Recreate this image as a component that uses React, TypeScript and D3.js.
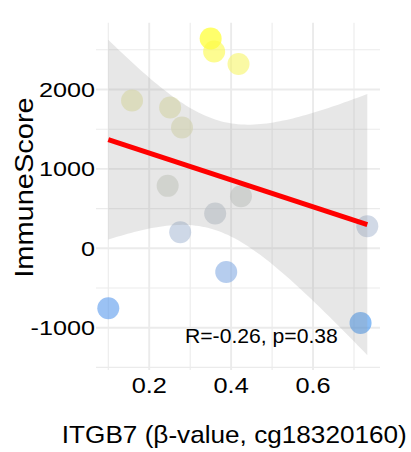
import React from "react";
import * as d3 from "d3";

// ---- data ----
const betaValues = [0.350, 0.3585, 0.418, 0.158, 0.251, 0.280, 0.245, 0.424, 0.361, 0.2756, 0.7325, 0.388, 0.100, 0.716];
const immuneScores = [2643, 2479, 2320, 1861, 1773, 1521, 786, 656, 438, 202, 277, -299, -755, -941];
const xMajorTicks = [0.2, 0.4, 0.6];
const xMinorTicks = [0.1, 0.3, 0.5, 0.7];
const yMajorTicks = [-1000, 0, 1000, 2000];
const yMinorTicks = [-1500, -500, 500, 1500, 2500];
const colorStops = [-950, 700, 1900, 2650];
const colorRange = ["#3b93f0", "#cfd1cb", "#e8e8a6", "#ffff00"];
const annotation = "R=-0.26, p=0.38";
const xTitle = "ITGB7 (\u03b2-value, cg18320160)";
const yTitle = "ImmuneScore";
const T_975_DF12 = 2.1788;

const FONT = "'Liberation Sans', Arial, Helvetica, sans-serif";

export default function App() {
  const W = 411, H = 452;
  const left = 96, right = 380, top = 22.7, bottom = 370;
  const x = d3.scaleLinear().domain([0.07, 0.7635]).range([left, right]);
  const y = d3.scaleLinear().domain([-1533, 2841]).range([bottom, top]);
  const color = d3.scaleLinear<string>().domain(colorStops).range(colorRange).interpolate(d3.interpolateLab);

  // linear regression with 95% CI
  const n = betaValues.length;
  const xbar = d3.mean(betaValues)!;
  const ybar = d3.mean(immuneScores)!;
  let sxx = 0, sxy = 0, syy = 0;
  for (let i = 0; i < n; i++) {
    const dx = betaValues[i] - xbar, dy = immuneScores[i] - ybar;
    sxx += dx * dx; sxy += dx * dy; syy += dy * dy;
  }
  const slope = sxy / sxx;
  const intercept = ybar - slope * xbar;
  const s = Math.sqrt((syy - slope * sxy) / (n - 2));
  const [xmin, xmax] = d3.extent(betaValues) as [number, number];
  const grid = d3.range(0, 81).map((i) => xmin + (xmax - xmin) * i / 80);
  const band = grid.map((xv) => {
    const fit = intercept + slope * xv;
    const hw = T_975_DF12 * s * Math.sqrt(1 / n + (xv - xbar) ** 2 / sxx);
    return { xv, lo: fit - hw, hi: fit + hw };
  });
  const area = d3.area<{ xv: number; lo: number; hi: number }>()
    .x((d) => x(d.xv)).y0((d) => y(d.lo)).y1((d) => y(d.hi));
  const line = d3.line<number>().x((d) => x(d)).y((d) => y(intercept + slope * d));

  const gridColor = "#ebebeb";

  return (
    <svg width={W} height={H} style={{ position: "absolute", left: 0, top: 0 }} fontFamily={FONT}>
      <rect x={0} y={0} width={W} height={H} fill="#ffffff" />
      {/* minor grid */}
      {yMinorTicks.map((t) => (
        <line key={"ym" + t} x1={left} x2={right} y1={y(t)} y2={y(t)} stroke={gridColor} strokeWidth={1.1} />
      ))}
      {xMinorTicks.map((t) => (
        <line key={"xm" + t} y1={top} y2={bottom} x1={x(t)} x2={x(t)} stroke={gridColor} strokeWidth={1.1} />
      ))}
      {/* major grid */}
      {yMajorTicks.map((t) => (
        <line key={"yM" + t} x1={left} x2={right} y1={y(t)} y2={y(t)} stroke={gridColor} strokeWidth={1.9} />
      ))}
      {xMajorTicks.map((t) => (
        <line key={"xM" + t} y1={top} y2={bottom} x1={x(t)} x2={x(t)} stroke={gridColor} strokeWidth={1.9} />
      ))}
      {/* points */}
      {betaValues.map((bv, i) => (
        <circle key={"p" + i} cx={x(bv)} cy={y(immuneScores[i])} r={11} fill={color(immuneScores[i])} fillOpacity={0.6} />
      ))}
      {/* CI band */}
      <path d={area(band)!} fill="#999999" fillOpacity={0.24} />
      {/* regression line */}
      <path d={line([xmin, xmax])!} stroke="#ff0000" strokeWidth={5} fill="none" />
      {/* annotation */}
      <text transform="translate(185,343) scale(1.085,1)" fontSize={19.5} fill="#000">{annotation}</text>
      {/* y tick labels */}
      {yMajorTicks.map((t) => (
        <text key={"yl" + t} transform={`translate(95,${y(t)}) scale(1.2,1)`} textAnchor="end" dy="0.36em" fontSize={21} fill="#000">
          {String(t)}
        </text>
      ))}
      {/* x tick labels */}
      {xMajorTicks.map((t) => (
        <text key={"xl" + t} transform={`translate(${x(t)},393) scale(1.15,1)`} textAnchor="middle" fontSize={22} fill="#000">
          {t.toFixed(1)}
        </text>
      ))}
      {/* axis titles */}
      <text transform="translate(234.3,443) scale(1.09,1)" textAnchor="middle" fontSize={24} fill="#000">{xTitle}</text>
      <text transform="translate(33,187.5) rotate(-90) scale(1.16,1)" textAnchor="middle" fontSize={25} fill="#000">{yTitle}</text>
    </svg>
  );
}
